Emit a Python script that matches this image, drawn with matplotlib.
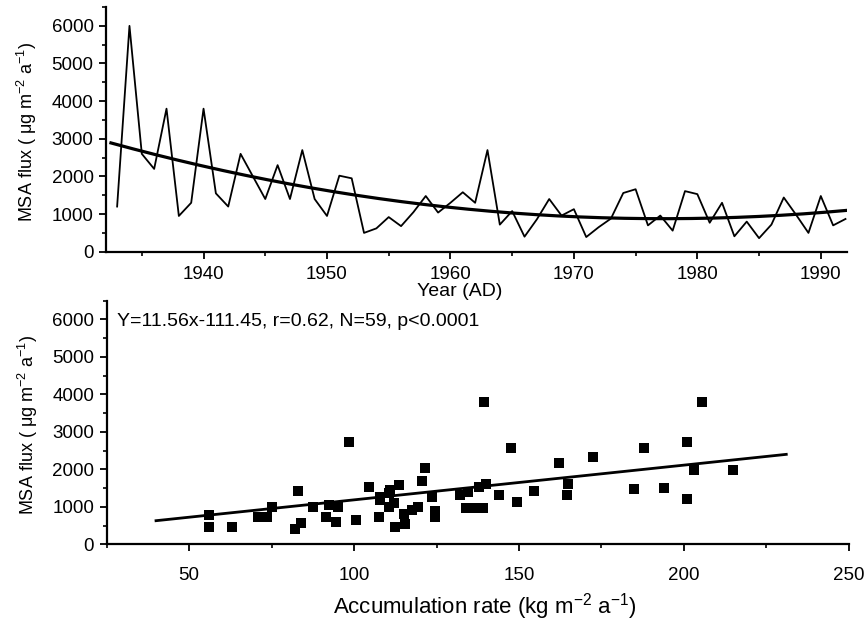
import matplotlib
matplotlib.use("Agg")
import matplotlib.pyplot as plt
from matplotlib.ticker import MultipleLocator
import numpy as np

plt.rcParams['font.family'] = ['Liberation Sans', 'DejaVu Sans']
plt.rcParams['mathtext.default'] = 'regular'

# MSA flux time series (ug m-2 a-1)
years = list(range(1933, 1993))
flux = [1200, 6000, 2600, 2200, 3800, 950, 1300, 3800, 1550, 1200,
        2600, 2000, 1400, 2300, 1400, 2700, 1400, 950, 2020, 1950,
        500, 620, 920, 680, 1050, 1480, 1040, 1300, 1580, 1300,
        2700, 720, 1080, 400, 860, 1400, 960, 1130, 390, 650,
        880, 1560, 1660, 700, 960, 560, 1610, 1530, 770, 1300,
        410, 800, 360, 720, 1440, 980, 500, 1480, 700, 870]

# accumulation rate vs MSA flux
accum = [56, 56, 63, 71, 73.5, 75, 83, 82, 84, 87.5,
         91.5, 92.5, 94.5, 95, 98.5, 100.5, 104.5, 107.5, 108, 110.5,
         110.5, 113.5, 112.5, 115.5, 115, 117.5, 119.5, 120.5, 121.5, 123.5,
         124.5, 124.5, 132, 134.5, 134, 136.5, 139, 138, 140, 139.5,
         144, 149.5, 147.5, 154.5, 162, 165, 164.5, 172.5, 185, 188,
         194, 201, 201, 203, 205.5, 215, 111, 107.8, 112]
msa = [780, 455, 470, 720, 720, 990, 1430, 400, 560, 1000,
       740, 1050, 600, 990, 2720, 650, 1540, 740, 1180, 1360,
       1000, 1590, 470, 530, 800, 920, 1000, 1700, 2030, 1270,
       900, 720, 1320, 1400, 960, 960, 960, 1540, 1600, 3800,
       1320, 1140, 2570, 1430, 2180, 1610, 1320, 2320, 1470, 2580,
       1510, 2740, 1200, 1990, 3800, 1970, 1450, 1270, 1100]

# regression line as drawn in the figure (end points)
fit_x = [40, 231]
fit_y = [630, 2400]

ylab = 'MSA flux ( μg m$^{-2}$ a$^{-1}$)'

fig = plt.figure(figsize=(8.64, 6.22), dpi=100)
ax1 = fig.add_axes([0.1227, 0.5953, 0.8573, 0.3934])
ax2 = fig.add_axes([0.1233, 0.1249, 0.8593, 0.3917])

for ax in (ax1, ax2):
    ax.spines['top'].set_visible(False)
    ax.spines['right'].set_visible(False)
    ax.spines['left'].set_linewidth(1.6)
    ax.spines['bottom'].set_linewidth(1.6)
    ax.tick_params(which='major', direction='out', length=5, width=1.3,
                   labelsize=13.5)
    ax.tick_params(which='minor', direction='out', length=3, width=1.2)
    ax.tick_params(axis='y', pad=4)
    ax.set_ylim(0, 6500)
    ax.yaxis.set_major_locator(MultipleLocator(1000))
    ax.yaxis.set_minor_locator(MultipleLocator(500))
    ax.set_ylabel(ylab, fontsize=13)
    ax.yaxis.set_label_coords(-0.09, 0.49)

# top: time series with polynomial trend
ax1.plot(years, flux, color='black', lw=1.3)
t = np.array(years) - 1960
coef = np.polyfit(t, flux, 2)
yy = np.linspace(1932.5, 1992.5, 200)
ax1.plot(yy, np.polyval(coef, yy - 1960), color='black', lw=2.3)
ax1.set_xlim(1932.1, 1992.1)
ax1.xaxis.set_major_locator(MultipleLocator(10))
ax1.xaxis.set_minor_locator(MultipleLocator(5))
ax1.tick_params(axis='x', pad=5)
ax1.set_xlabel('Year (AD)', fontsize=14)
ax1.xaxis.set_label_coords(0.478, -0.128)

# bottom: scatter with linear regression
ax2.scatter(accum, msa, marker='s', s=50, color='black', linewidths=0)
ax2.plot(fit_x, fit_y, color='black', lw=2)
ax2.set_xlim(25, 250)
ax2.xaxis.set_major_locator(MultipleLocator(50))
ax2.xaxis.set_minor_locator(MultipleLocator(25))
ax2.tick_params(axis='x', pad=11)
ax2.set_xlabel('Accumulation rate (kg m$^{-2}$ a$^{-1}$)', fontsize=16)
ax2.xaxis.set_label_coords(0.51, -0.19)
ax2.text(0.014, 0.914, 'Y=11.56x-111.45, r=0.62, N=59, p<0.0001',
         transform=ax2.transAxes, fontsize=14, va='center', ha='left')

fig.savefig('out.png', dpi=100)
